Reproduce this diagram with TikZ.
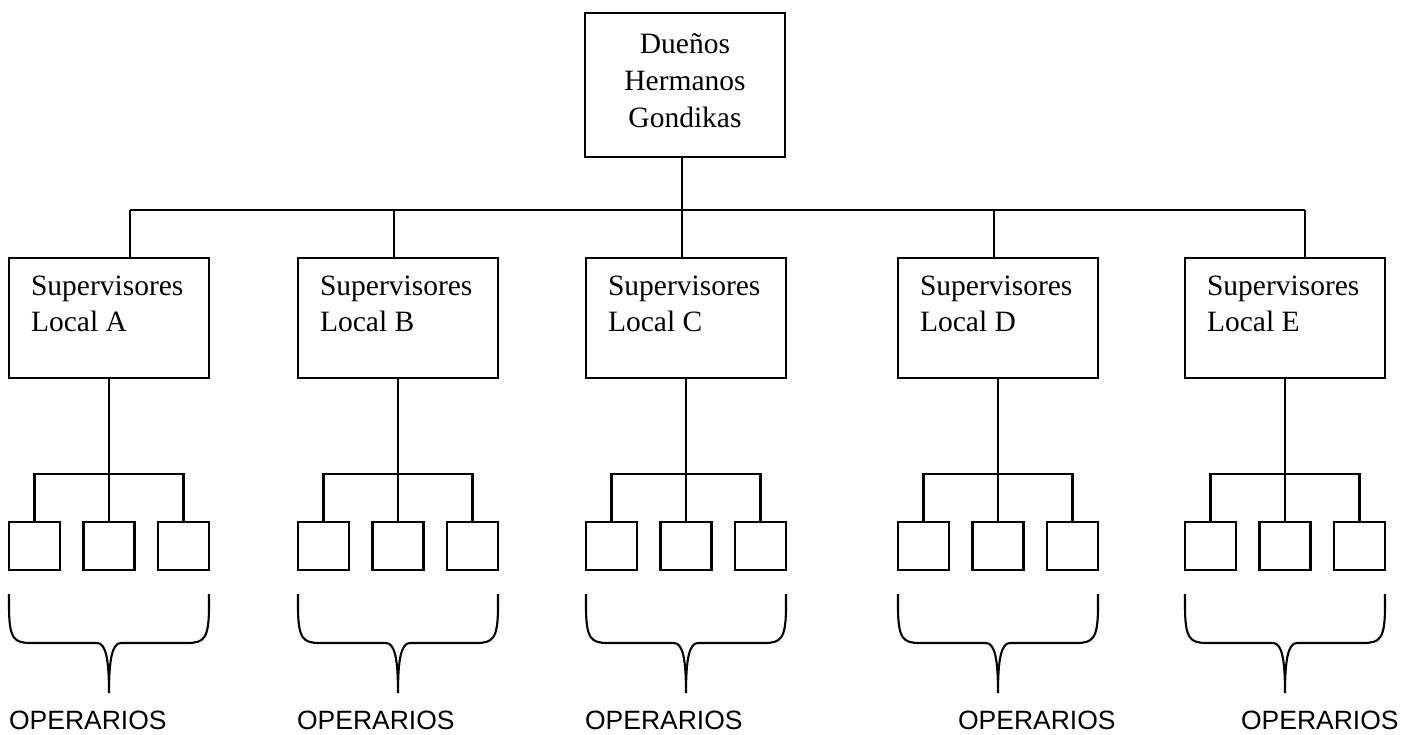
\documentclass[tikz,border=0pt]{standalone}
\usepackage{fontspec}
\setmainfont{Liberation Serif}
\newfontfamily\arialf{Liberation Sans}
\begin{document}
\begin{tikzpicture}[x=1pt,y=-1pt,line width=2.1pt,
  box/.style={draw,rectangle,inner sep=0pt,outer sep=0pt,line width=2.1pt},
  svtext/.style={inner sep=0pt,align=left,anchor=west,font=\fontsize{29.5}{36}\selectfont},
  toptext/.style={inner sep=0pt,align=center,font=\fontsize{29.5}{37}\selectfont},
  optext/.style={inner sep=0pt,anchor=base west,font=\arialf\fontsize{26.5}{30}\selectfont},
  link/.style={draw,line width=2.1pt},
  bracestyle/.style={draw,line width=2.1pt}]
\useasboundingbox (0,0) rectangle (1414,734);
% top box
\node[box,minimum width=200pt,minimum height=144pt] (top) at (685,85) {};
\node[toptext] (toptxt) at (685,80.5) {Dueños\\Hermanos\\Gondikas};
\coordinate (tj) at (682,210);
\draw[link] (top.south -| tj) -- (tj);
% main bar
\coordinate (bA) at (130,210);
\coordinate (bB) at (394,210);
\coordinate (bC) at (682,210);
\coordinate (bD) at (994,210);
\coordinate (bE) at (1305,210);
\draw[link] (bA) -- (bE);
\foreach \x/\L/\ox in {9/A/8, 298/B/296, 586/C/584, 898/D/957, 1185/E/1240}{
  \node[box,minimum width=200pt,minimum height=120pt,anchor=north west] (s\L) at (\x,258) {};
  \node[svtext] (t\L) at (\x+21,304) {Supervisores\\Local \L};
  \draw[link] (b\L) -- (b\L |- s\L.north);
  \coordinate (j\L) at (\x+100,474);
  \draw[link] (s\L.south) -- (j\L);
  \node[box,minimum width=51pt,minimum height=48pt,anchor=north west] (p\L1) at (\x,522) {};
  \node[box,minimum width=51pt,minimum height=48pt,anchor=north west] (p\L2) at (\x+74.5,522) {};
  \node[box,minimum width=51pt,minimum height=48pt,anchor=north west] (p\L3) at (\x+149,522) {};
  \draw[link] (p\L1.north) -- (p\L1.north |- j\L) -- (p\L3.north |- j\L) -- (p\L3.north);
  \draw[link] (j\L) -- (p\L2.north);
  \draw[bracestyle] (\x,594) -- (\x,606) .. controls (\x,639) and (\x+5,643) .. (\x+22,643)
     -- (\x+88,643) .. controls (\x+97,643) and (\x+100,660) .. (\x+100,693)
     .. controls (\x+100,660) and (\x+103,643) .. (\x+112,643)
     -- (\x+178,643) .. controls (\x+195,643) and (\x+200,639) .. (\x+200,606) -- (\x+200,594);
  \node[optext] (o\L) at (\ox,729) {OPERARIOS};
}
\end{tikzpicture}
\end{document}
